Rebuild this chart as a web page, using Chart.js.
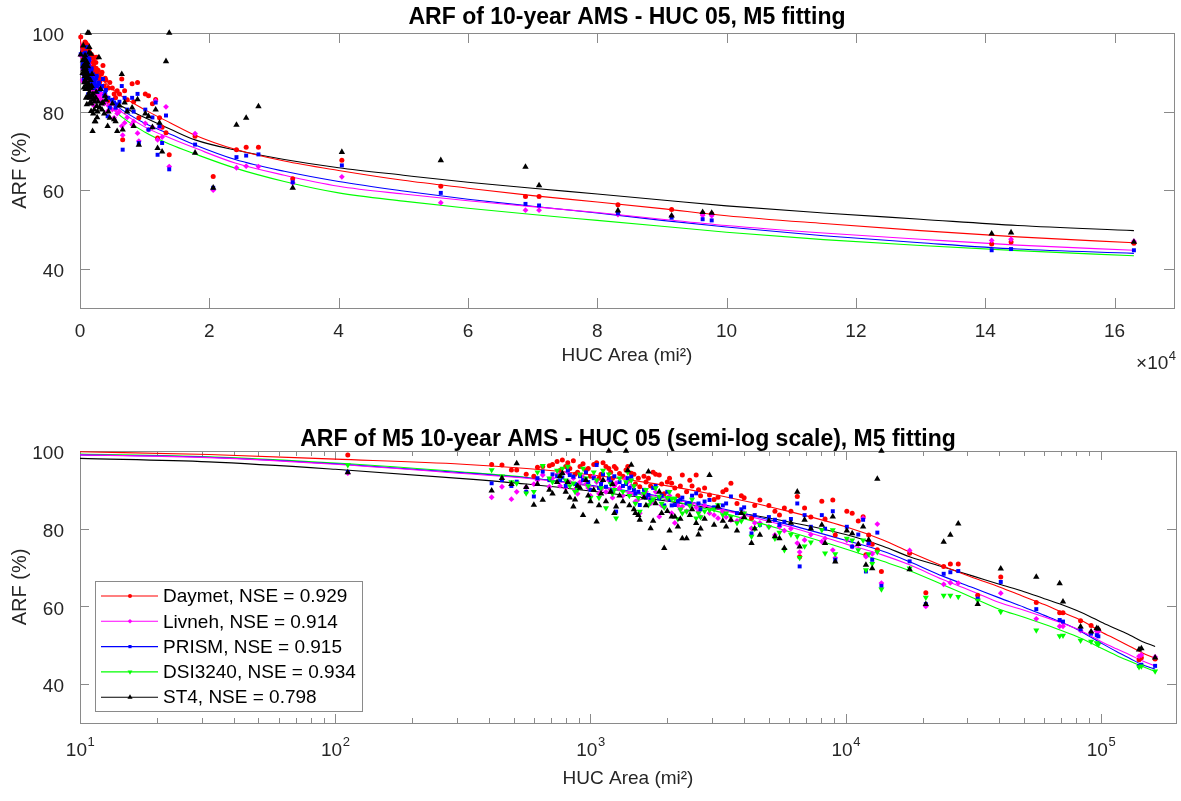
<!DOCTYPE html>
<html>
<head>
<meta charset="utf-8">
<script src="https://cdn.jsdelivr.net/npm/chart.js@4.4.1/dist/chart.umd.min.js"></script>
<style>
  html, body { margin: 0; padding: 0; background: #ffffff; }
  #wrap { position: relative; width: 1181px; height: 801px; background: #fff; }
  canvas { position: absolute; left: 0; }
  #c1 { top: 0; }
  #c2 { top: 400px; }
</style>
</head>
<body>
<div id="wrap">
  <canvas id="c1" width="1181" height="400" style="width:1181px;height:400px"></canvas>
  <canvas id="c2" width="1181" height="401" style="width:1181px;height:401px"></canvas>
</div>
<script>
// ---------------- DATA ----------------
const seriesNames = ['Daymet', 'Livneh', 'PRISM', 'DSI3240', 'ST4'];
const nseValues = [0.929, 0.914, 0.915, 0.934, 0.798];

// HUC drainage areas (mi^2)
const hucArea = [
  112, 410, 450, 490, 514, 560, 600, 650, 690,
  740, 776, 800, 830, 857, 890, 935, 960, 1000, 1057, 1100, 1150, 1180, 1220, 1260, 1300, 1378, 1420, 1445, 1500, 1560,
  1620, 1687, 1720, 1800, 1860, 1945, 2000, 2080, 2140, 2200, 2290, 2380, 2500, 2595, 2700, 2800, 2926, 3050, 3160, 3300, 3550, 3750,
  4000, 4275, 4610, 5000, 5280, 5750, 6100, 6460, 6600, 6900, 7300, 8060, 8300, 8900, 9100, 10100, 10600, 11200, 11700, 12000, 12300, 12700,
  13300, 13800, 17800, 20600, 24200, 25700, 27600, 32900, 40500, 55800, 68900, 71000, 83200, 91500, 96300, 97700, 141000, 144000, 163000,
  620, 710, 760, 815, 870, 910, 980, 1030, 1080, 1120, 1200, 1240, 1340, 1400, 1480, 1540, 1650, 1760, 1900, 2040, 2250, 2450, 2650, 3400, 3900, 4400, 5500
];
// ARF (%) per dataset, same order as hucArea
const daymetARF = [
  99.0, 96.5, 96.4, 95.1, 95.1, 94.0, 93.5, 96.0, 96.2,
  97.3, 97.7, 96.0, 95.5, 97.5, 94.5, 96.7, 95.0, 93.5, 97.0, 94.0, 96.0, 95.5, 93.0, 95.5, 94.2, 95.1, 92.5, 94.3, 91.5, 90.8,
  93.5, 93.0, 91.0, 94.0, 93.8, 89.0, 92.0, 91.7, 90.5, 88.5, 93.8, 89.5, 91.0, 93.8, 88.5, 90.5, 88.7, 87.5, 88.1, 89.5, 91.7, 86.5,
  88.0, 82.7, 87.4, 86.0, 84.5, 85.3, 84.5, 88.3, 72.8, 85.3, 83.0, 87.1, 82.5, 87.4, 78.4, 84.5, 84.0, 82.0, 83.1, 73.3, 78.4, 76.0,
  74.6, 69.0, 73.7, 63.5, 70.3, 70.9, 70.9, 62.9, 67.6, 61.0, 58.4, 58.4, 56.3, 55.1, 54.1, 54.0, 46.3, 46.8, 46.5,
  95.8, 96.5, 95.0, 97.0, 94.0, 96.0, 95.5, 96.5, 93.0, 97.0, 94.5, 96.0, 93.5, 96.0, 94.0, 93.0, 92.0, 94.5, 91.5, 93.0, 91.0, 92.5, 90.0, 90.0, 88.5, 86.0, 83.5
];
const livnehARF = [
  94.3, 88.1, 90.8, 87.6, 89.5, 90.7, 91.5, 93.8, 90.8,
  94.0, 94.3, 90.5, 92.0, 93.0, 89.0, 93.3, 91.5, 88.5, 92.0, 90.0, 89.5, 92.5, 88.0, 91.7, 90.5, 93.0, 89.0, 91.0, 87.0, 84.0,
  88.5, 88.0, 86.5, 89.5, 83.1, 85.5, 87.5, 84.0, 81.5, 86.0, 85.7, 84.5, 86.5, 85.5, 83.0, 86.0, 84.0, 83.5, 82.7, 84.5, 82.2, 82.0,
  84.0, 80.1, 81.5, 80.5, 78.4, 79.5, 80.0, 76.3, 74.0, 77.1, 78.5, 76.7, 77.5, 74.5, 72.5, 77.0, 75.4, 76.0, 82.7, 72.8, 76.0, 73.5,
  81.2, 66.0, 74.4, 60.0, 65.7, 66.1, 66.0, 61.9, 63.4, 56.8, 54.9, 54.9, 53.8, 53.4, 53.6, 53.5, 47.2, 47.5, 47.0,
  92.5, 93.0, 91.0, 94.5, 90.0, 92.0, 90.5, 93.5, 89.0, 92.5, 90.0, 91.0, 88.5, 92.0, 89.0, 87.5, 89.5, 87.0, 86.0, 88.5, 85.0, 86.0, 84.5, 83.0, 82.5, 81.5, 80.5
];
const prismARF = [
  94.6, 91.7, 92.5, 91.0, 92.1, 89.5, 88.3, 94.7, 92.5,
  93.5, 93.2, 91.0, 93.8, 93.4, 90.5, 92.5, 94.5, 90.0, 96.4, 91.5, 90.8, 93.0, 90.0, 84.4, 92.0, 91.5, 90.5, 93.4, 89.0, 86.1,
  90.0, 88.7, 87.5, 91.0, 87.8, 86.0, 89.5, 86.0, 86.1, 87.0, 88.0, 86.5, 88.5, 89.1, 85.0, 87.0, 87.4, 85.5, 85.7, 86.0, 88.3, 84.0,
  85.5, 78.8, 81.0, 83.0, 82.3, 81.8, 82.5, 86.5, 70.3, 83.5, 80.5, 83.5, 80.0, 84.5, 72.0, 80.5, 75.4, 78.5, 82.3, 69.0, 76.3, 72.0,
  79.0, 65.3, 71.6, 60.6, 68.4, 68.8, 69.1, 62.0, 66.3, 59.3, 56.5, 56.1, 54.1, 53.0, 52.6, 52.3, 44.7, 45.0, 44.7,
  93.0, 94.0, 92.5, 95.0, 91.5, 93.5, 92.0, 93.0, 90.5, 94.0, 92.0, 93.5, 91.0, 93.0, 90.0, 89.5, 88.0, 90.5, 88.5, 87.5, 87.5, 86.5, 86.5, 86.5, 85.0, 83.5, 81.0
];
const dsi3240ARF = [
  96.4, 95.1, 93.5, 92.0, 91.7, 89.1, 89.5, 96.2, 93.0,
  95.0, 95.5, 92.5, 91.0, 91.7, 90.0, 95.5, 93.0, 88.0, 92.5, 90.5, 85.3, 94.0, 89.0, 82.7, 93.0, 92.0, 88.5, 92.5, 86.5, 84.4,
  89.0, 86.1, 87.0, 90.5, 88.3, 85.5, 88.0, 87.8, 87.8, 82.5, 84.0, 84.5, 87.5, 82.7, 83.0, 84.5, 84.8, 85.0, 86.1, 83.5, 83.1, 81.5,
  84.0, 78.0, 81.0, 80.5, 77.5, 74.5, 78.5, 78.0, 72.5, 75.5, 76.5, 79.7, 73.7, 79.7, 73.5, 77.5, 77.0, 74.5, 77.0, 69.4, 73.5, 71.0,
  74.0, 64.4, 69.8, 62.3, 62.8, 62.8, 62.5, 61.5, 58.6, 53.9, 52.4, 52.5, 51.2, 51.0, 50.6, 50.2, 44.4, 44.6, 43.3,
  94.5, 92.0, 93.5, 96.0, 89.5, 94.0, 91.0, 94.5, 88.0, 95.0, 91.5, 90.0, 89.5, 94.5, 91.0, 88.0, 90.0, 87.5, 86.5, 89.5, 85.0, 86.0, 84.0, 84.0, 82.0, 80.0, 79.0
];
const st4ARF = [
  94.5, 89.8, 93.0, 91.5, 96.8, 90.7, 86.1, 87.4, 90.0,
  92.0, 94.3, 89.5, 88.0, 85.7, 91.0, 83.5, 92.5, 87.0, 81.8, 89.0, 87.0, 100.0, 91.5, 85.7, 88.5, 100.0, 86.0, 96.4, 84.0, 82.3,
  88.0, 94.7, 80.1, 86.5, 89.5, 75.0, 84.5, 83.1, 83.1, 80.5, 77.5, 77.5, 85.0, 81.4, 80.0, 82.5, 93.8, 81.0, 85.7, 82.0, 82.3, 79.5,
  83.0, 76.3, 78.4, 82.0, 78.0, 75.0, 81.5, 89.5, 75.4, 82.3, 80.0, 81.0, 76.3, 83.1, 71.5, 79.5, 78.8, 76.0, 80.5, 70.7, 77.1, 69.8,
  92.8, 100.0, 69.5, 60.6, 76.6, 78.4, 81.3, 60.6, 69.7, 67.6, 65.9, 61.2, 54.8, 53.5, 54.4, 54.2, 48.9, 49.2, 46.8,
  91.5, 89.0, 93.5, 92.0, 87.5, 90.5, 88.5, 90.0, 86.0, 92.5, 89.5, 84.0, 87.0, 95.0, 85.0, 83.5, 86.0, 82.0, 84.0, 79.5, 82.5, 83.5, 78.5, 80.5, 84.0, 80.0, 77.5
];

// M5 fitted curves, read at these areas (mi^2)
const fitArea = [10, 32, 100, 316, 562, 1000, 1780, 3160, 5620, 10000, 14000, 17800, 24000, 31600, 40000, 50000,
                 60000, 70000, 80000, 90000, 100000, 115000, 130000, 145000, 163000];
const daymetFit  = [99.8, 99.1, 97.9, 96.6, 95.5, 93.9, 91.6, 88.6, 84.9, 80.5, 77.1, 74.0, 70.4, 67.4, 65.0, 62.5,
                    60.5, 58.6, 57.0, 55.3, 53.5, 51.5, 49.7, 48.1, 46.6];
const livnehFit  = [99.0, 98.3, 96.6, 94.2, 93.0, 91.0, 88.4, 85.1, 81.0, 76.1, 73.2, 70.7, 66.9, 63.8, 61.0, 59.0,
                    57.3, 55.8, 54.3, 52.6, 51.0, 49.1, 47.5, 46.0, 44.7];
const prismFit   = [99.0, 98.4, 96.7, 94.4, 93.1, 91.2, 88.6, 85.4, 81.5, 77.0, 74.2, 71.5, 67.8, 64.8, 62.2, 59.8,
                    57.7, 55.9, 54.2, 52.3, 50.6, 48.4, 46.6, 45.0, 43.9];
const dsi3240Fit = [99.2, 98.5, 96.9, 94.6, 93.2, 91.0, 88.1, 84.4, 79.8, 74.8, 71.6, 69.2, 65.6, 62.2, 59.3, 57.2,
                    55.4, 53.8, 52.3, 50.8, 49.3, 47.4, 45.9, 44.6, 43.3];
const st4Fit     = [98.1, 97.2, 95.3, 92.9, 91.5, 89.7, 87.6, 85.0, 82.1, 78.5, 75.5, 72.8, 70.2, 67.8, 65.7, 63.8,
                    62.0, 60.5, 59.0, 57.5, 56.0, 54.2, 52.6, 51.0, 49.7];

// Tick labels
const yTicks = [40, 60, 80, 100];
const xTicksLinear = [0, 20000, 40000, 60000, 80000, 100000, 120000, 140000, 160000];
const xTicksLog = [10, 100, 1000, 10000, 100000];

const titleTop = 'ARF of 10-year AMS - HUC 05, M5 fitting';
const titleBottom = 'ARF of M5 10-year AMS - HUC 05 (semi-log scale), M5 fitting';
const xAxisTitle = 'HUC Area (mi\u00B2)';
const yAxisTitle = 'ARF (%)';

// ---------------- STYLE ----------------
const FONT = "'Liberation Sans', Arial, Helvetica, sans-serif";
const TICKCOL = '#262626';
const AXISCOL = '#8a8a8a';
const colors = ['#ff0000', '#ff00ff', '#0000ff', '#00ff00', '#000000'];
const pStyles = [
  {pointStyle: 'circle', radius: 2.5, rotation: 0},
  {pointStyle: 'rectRot', radius: 2.9, rotation: 0},
  {pointStyle: 'rect', radius: 2.8, rotation: 0},
  {pointStyle: 'triangle', radius: 3.5, rotation: 180},
  {pointStyle: 'triangle', radius: 3.7, rotation: 0}
];
const seriesARF = [daymetARF, livnehARF, prismARF, dsi3240ARF, st4ARF];
const seriesFit = [daymetFit, livnehFit, prismFit, dsi3240Fit, st4Fit];

function scatterDS(i) {
  return {
    type: 'scatter',
    label: seriesNames[i],
    data: hucArea.map((a, k) => ({x: a, y: seriesARF[i][k]})),
    backgroundColor: colors[i],
    borderColor: colors[i],
    borderWidth: 0,
    pointStyle: pStyles[i].pointStyle,
    pointRadius: pStyles[i].radius,
    pointRotation: pStyles[i].rotation,
    showLine: false,
    clip: false,
    order: 5 - i
  };
}
function fitDS(i) {
  return {
    type: 'line',
    label: seriesNames[i] + ' fit',
    data: fitArea.map((a, k) => ({x: a, y: seriesFit[i][k]})),
    borderColor: colors[i],
    borderWidth: 1.1,
    pointRadius: 0,
    fill: false,
    tension: 0.4,
    cubicInterpolationMode: 'monotone',
    order: 20 + i
  };
}

function decoPlugin(cfg) {
  return {
    id: 'deco',
    beforeDatasetsDraw(chart) {
      const {ctx, chartArea: a, scales} = chart;
      ctx.save();
      ctx.strokeStyle = AXISCOL;
      ctx.lineWidth = 1;
      ctx.beginPath();
      const L = cfg.tickLen;
      scales.x.ticks.forEach(t => {
        const px = Math.round(scales.x.getPixelForValue(t.value)) + 0.5;
        ctx.moveTo(px, a.bottom); ctx.lineTo(px, a.bottom - L);
        ctx.moveTo(px, a.top); ctx.lineTo(px, a.top + L);
      });
      if (cfg.minorLog) {
        for (let d = 10; d <= 100000; d *= 10) {
          for (let m = 2; m <= 9; m++) {
            const v = d * m;
            if (v > scales.x.max) continue;
            const px = Math.round(scales.x.getPixelForValue(v)) + 0.5;
            ctx.moveTo(px, a.bottom); ctx.lineTo(px, a.bottom - cfg.minorLen);
            ctx.moveTo(px, a.top); ctx.lineTo(px, a.top + cfg.minorLen);
          }
        }
      }
      scales.y.ticks.forEach(t => {
        const py = Math.round(scales.y.getPixelForValue(t.value)) + 0.5;
        ctx.moveTo(a.left, py); ctx.lineTo(a.left + L, py);
        ctx.moveTo(a.right, py); ctx.lineTo(a.right - L, py);
      });
      ctx.stroke();
      ctx.strokeRect(Math.round(a.left) + 0.5, Math.round(a.top) + 0.5,
                     Math.round(a.right - a.left), Math.round(a.bottom - a.top));
      ctx.restore();
    },
    afterDraw(chart) {
      const {ctx, chartArea: a, scales} = chart;
      ctx.save();
      // title
      ctx.fillStyle = '#000';
      ctx.font = 'bold ' + cfg.titleSize + 'px ' + FONT;
      ctx.textAlign = 'center';
      ctx.textBaseline = 'middle';
      ctx.fillText(cfg.title, (a.left + a.right) / 2, cfg.titleY);
      // log tick labels 10^n
      if (cfg.logLabels) {
        ctx.fillStyle = TICKCOL;
        ctx.textAlign = 'left';
        ctx.textBaseline = 'middle';
        scales.x.ticks.forEach(t => {
          const px = scales.x.getPixelForValue(t.value);
          const e = String(Math.round(Math.log10(t.value)));
          ctx.font = '19px ' + FONT; const w1 = ctx.measureText('10').width;
          ctx.font = '13px ' + FONT; const w2 = ctx.measureText(e).width;
          const x0 = px - (w1 + w2) / 2;
          ctx.font = '19px ' + FONT; ctx.fillText('10', x0, a.bottom + 28);
          ctx.font = '13px ' + FONT; ctx.fillText(e, x0 + w1 + 0.5, a.bottom + 19);
        });
      }
      // x10^4 multiplier
      if (cfg.multiplier) {
        ctx.fillStyle = TICKCOL;
        ctx.textAlign = 'right';
        ctx.textBaseline = 'middle';
        ctx.font = '13px ' + FONT;
        const expW = ctx.measureText('4').width;
        ctx.fillText('4', a.right + 2, cfg.multY - 8);
        ctx.font = '19px ' + FONT;
        ctx.fillText('\u00D710', a.right + 1.5 - expW, cfg.multY);
      }
      // legend
      if (cfg.legend) {
        const lg = cfg.legend;
        ctx.fillStyle = '#fff';
        ctx.fillRect(lg.x, lg.y, lg.w, lg.h);
        ctx.strokeStyle = AXISCOL;
        ctx.lineWidth = 1;
        ctx.strokeRect(lg.x + 0.5, lg.y + 0.5, lg.w, lg.h);
        for (let i = 0; i < seriesNames.length; i++) {
          const yy = lg.y + lg.first + i * lg.step;
          ctx.strokeStyle = colors[i];
          ctx.lineWidth = 1.1;
          ctx.beginPath();
          ctx.moveTo(lg.x + 6, yy); ctx.lineTo(lg.x + 63, yy);
          ctx.stroke();
          ctx.fillStyle = colors[i];
          Chart.helpers.drawPoint(ctx, {pointStyle: pStyles[i].pointStyle, radius: pStyles[i].radius * 0.8,
                                        rotation: pStyles[i].rotation, borderWidth: 0}, lg.x + 35, yy);
          ctx.fillStyle = '#000';
          ctx.font = '19px ' + FONT;
          ctx.textAlign = 'left';
          ctx.textBaseline = 'middle';
          ctx.fillText(seriesNames[i] + ', NSE = ' + nseValues[i].toFixed(3), lg.x + 68, yy + 1);
        }
      }
      ctx.restore();
    }
  };
}

function yScale() {
  return {
    type: 'linear', min: 30, max: 100,
    grid: {display: false}, border: {display: false},
    afterBuildTicks: s => { s.ticks = yTicks.map(v => ({value: v})); },
    afterFit: s => { s.width = 80; },
    ticks: {color: TICKCOL, font: {family: FONT, size: 19}, padding: 8, labelOffset: 3},
    title: {display: true, text: yAxisTitle, color: TICKCOL, font: {family: FONT, size: 20}, padding: {top: 8, bottom: 0}}
  };
}

Chart.defaults.font.family = FONT;

// ---------- Top chart (linear) ----------
const ds1 = [0, 1, 2, 3, 4].map(fitDS).concat([0, 1, 2, 4].map(scatterDS));
new Chart(document.getElementById('c1'), {
  type: 'scatter',
  data: {datasets: ds1},
  options: {
    responsive: false, animation: false,
    layout: {padding: {top: 33, right: 7, left: 0, bottom: 0}},
    plugins: {legend: {display: false}, tooltip: {enabled: false}},
    scales: {
      x: {
        type: 'linear', min: 0, max: 169200,
        grid: {display: false}, border: {display: false},
        afterBuildTicks: s => { s.ticks = xTicksLinear.map(v => ({value: v})); },
        afterFit: s => { s.height = 92; },
        ticks: {color: TICKCOL, font: {family: FONT, size: 19}, padding: 4, maxRotation: 0, autoSkip: false,
                callback: v => String(v / 10000)},
        title: {display: true, text: xAxisTitle, color: TICKCOL, font: {family: FONT, size: 19}, padding: {top: 0, bottom: 33}}
      },
      y: yScale()
    }
  },
  plugins: [decoPlugin({tickLen: 10, title: titleTop, titleSize: 23, titleY: 18, multiplier: true, multY: 364})]
});

// ---------- Bottom chart (semi-log) ----------
const ds2 = [0, 1, 2, 3, 4].map(fitDS).concat([0, 1, 2, 3, 4].map(scatterDS));
new Chart(document.getElementById('c2'), {
  type: 'scatter',
  data: {datasets: ds2},
  options: {
    responsive: false, animation: false,
    layout: {padding: {top: 51, right: 5, left: 0, bottom: 0}},
    plugins: {legend: {display: false}, tooltip: {enabled: false}},
    scales: {
      x: {
        type: 'logarithmic', min: 10, max: 196800,
        grid: {display: false}, border: {display: false},
        afterBuildTicks: s => { s.ticks = xTicksLog.map(v => ({value: v})); },
        afterFit: s => { s.height = 78; },
        ticks: {display: true, color: 'rgba(0,0,0,0)', font: {family: FONT, size: 19}, padding: 11, maxRotation: 0, autoSkip: false,
                callback: v => '10^' + Math.round(Math.log10(v))},
        title: {display: true, text: xAxisTitle, color: TICKCOL, font: {family: FONT, size: 19}, padding: {top: 0, bottom: 11}}
      },
      y: yScale()
    }
  },
  plugins: [decoPlugin({tickLen: 9, minorLog: true, minorLen: 5, logLabels: true, title: titleBottom, titleSize: 23, titleY: 40,
                        legend: {x: 95, y: 181, w: 267, h: 130, first: 15, step: 25.3}})]
});
</script>
</body>
</html>
